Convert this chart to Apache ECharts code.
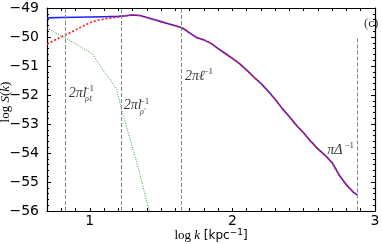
<!DOCTYPE html>
<html><head><meta charset="utf-8">
<script src="https://cdn.jsdelivr.net/npm/echarts@6/dist/echarts.min.js"></script>
<style>html,body{margin:0;padding:0;background:#fff}#c{width:382px;height:244px}</style>
</head><body><div id="c"></div>
<script>
// ---- data ----
const blueHeadK = [0.7, 0.8, 0.9, 1.0, 1.1, 1.2];
const blueHeadS = [-49.34, -49.33, -49.32, -49.31, -49.30, -49.29];
const redHeadK = [0.7, 0.75, 0.8, 0.85, 0.9, 0.95, 1.0, 1.05, 1.1, 1.15, 1.2];
const redHeadS = [-50.24, -50.12, -50.00, -49.88, -49.76, -49.63, -49.51, -49.43, -49.38, -49.34, -49.31];
const tailK = [1.25, 1.3, 1.35, 1.4, 1.45, 1.5, 1.55, 1.6, 1.65, 1.7, 1.75, 1.8, 1.85, 1.9, 1.95, 2.0, 2.05, 2.1, 2.15, 2.2, 2.25, 2.3, 2.35, 2.4, 2.45, 2.5, 2.55, 2.6, 2.65, 2.7, 2.75, 2.8, 2.85, 2.877];
const tailS = [-49.27, -49.24, -49.26, -49.33, -49.40, -49.47, -49.54, -49.61, -49.69, -49.86, -50.02, -50.10, -50.22, -50.40, -50.57, -50.74, -50.92, -51.14, -51.38, -51.60, -51.86, -52.15, -52.47, -52.75, -53.05, -53.31, -53.60, -53.86, -54.08, -54.34, -54.77, -55.10, -55.36, -55.45];
const greenK = [0.7, 0.75, 0.8, 0.85, 0.9, 0.95, 1.0, 1.02, 1.05, 1.1, 1.15, 1.19, 1.22, 1.25, 1.3, 1.33, 1.35, 1.4, 1.418];
const greenS = [-49.69, -49.83, -49.96, -50.09, -50.23, -50.38, -50.53, -50.59, -50.82, -51.20, -51.52, -51.83, -52.45, -52.95, -53.83, -54.34, -54.70, -55.70, -56.0];
const scaleLinesK = [0.83, 1.22, 1.644];
const deltaLineK = 2.874;
const deltaLineTop = -50.05;
const xTicks = [1, 2, 3];
const yTicks = [-56, -55, -54, -53, -52, -51, -50, -49];

// annotation texts
const annText = {
  l1: '2\u03c0l', l1sup: '\u22121', l1sub: '\u03c1\u2113',
  l2: '2\u03c0l', l2sup: '\u22121', l2sub: '\u03c1\u2032',
  l3: '2\u03c0\u2113', l3sup: '\u22121',
  l4: '\u03c0\u0394', l4sup: '\u22121',
  tag: '(c)'
};

// ---- build ----
const zip = (a, b) => a.map((v, i) => [v, b[i]]);
const tail = zip(tailK, tailS);
const blue = zip(blueHeadK, blueHeadS).concat(tail);
const red = zip(redHeadK, redHeadS).concat(tail);
const green = zip(greenK, greenS);

const serif = 'Liberation Serif';
const sans = 'DejaVu Sans';
function ann(x, y, text, size, italic) {
  return { value: [x, y], label: { show: true, position: 'right', distance: 0, formatter: text,
    fontFamily: serif, fontStyle: italic ? 'italic' : 'normal', fontSize: size, color: '#000' } };
}
const annData = [
  ann(0.852, -51.93, annText.l1, 14, true), ann(0.962, -51.79, annText.l1sup, 9, false), ann(0.966, -52.14, annText.l1sub, 8, true),
  ann(1.238, -52.34, annText.l2, 14, true), ann(1.35, -52.22, annText.l2sup, 9, false), ann(1.352, -52.59, annText.l2sub, 8, true),
  ann(1.668, -51.34, annText.l3, 14, true), ann(1.797, -51.19, annText.l3sup, 9, false),
  ann(2.665, -53.92, annText.l4, 14, true), ann(2.786, -53.73, annText.l4sup, 9, false),
  ann(2.922, -49.52, annText.tag, 13, false)
];

const axisLine = { show: true, lineStyle: { color: '#000', width: 1.2 } };
const isInt = v => Math.abs(v - Math.round(v)) < 1e-6;

const option = {
  animation: false,
  backgroundColor: '#fff',
  grid: { left: 47, right: 7, top: 8, bottom: 33, containLabel: false, outerBoundsMode: 'none' },
  xAxis: [
    { type: 'value', min: 0.7, max: 3, interval: 0.1, position: 'bottom',
      axisLine, splitLine: { show: false },
      axisTick: { inside: true, length: 3, lineStyle: { color: '#000' } },
      axisLabel: { interval: 0, margin: 3, fontFamily: sans, fontSize: 14, color: '#000',
        formatter: v => (isInt(v) && xTicks.includes(Math.round(v))) ? String(Math.round(v)) : '' },
      name: '{i|log }{k|k}{s| [kpc}{sup|\u22121}{s|]}', nameLocation: 'middle', nameGap: 17,
      nameMoveOverlap: false,
      nameTextStyle: { rich: {
        i: { fontFamily: serif, fontSize: 13, color: '#000' },
        k: { fontFamily: serif, fontStyle: 'italic', fontSize: 13, color: '#000' },
        s: { fontFamily: sans, fontSize: 12, color: '#000' },
        sup: { fontFamily: sans, fontSize: 9, color: '#000', verticalAlign: 'top', padding: [0, 0, 6, 0] } } } },
    { type: 'value', min: 0.7, max: 3, interval: 0.1, position: 'top',
      axisLine, splitLine: { show: false },
      axisTick: { inside: true, length: 3, lineStyle: { color: '#000' } },
      axisLabel: { show: false } }
  ],
  yAxis: [
    { type: 'value', min: -56, max: -49, interval: 1, position: 'left',
      axisLine, splitLine: { show: false },
      axisTick: { inside: true, length: 4, lineStyle: { color: '#000' } },
      minorTick: { show: true, splitNumber: 5, length: 2, lineStyle: { color: '#000' } },
      axisLabel: { margin: 8, fontFamily: sans, fontSize: 14, color: '#000',
        formatter: v => yTicks.includes(Math.round(v)) ? '\u2212' + Math.abs(Math.round(v)) : '' },
      name: '{p| }{i|log }{k|S}{i|(}{k|k}{i|)}', nameLocation: 'middle', nameRotate: 90, nameGap: 35,
      nameMoveOverlap: false,
      nameTextStyle: { rich: {
        p: { width: 15, fontSize: 13 },
        i: { fontFamily: serif, fontSize: 13, color: '#000' },
        k: { fontFamily: serif, fontStyle: 'italic', fontSize: 13, color: '#000' } } } },
    { type: 'value', min: -56, max: -49, interval: 1, position: 'right',
      axisLine, splitLine: { show: false },
      axisTick: { inside: true, length: 4, lineStyle: { color: '#000' } },
      minorTick: { show: true, splitNumber: 5, length: 2, lineStyle: { color: '#000' } },
      axisLabel: { show: false } }
  ],
  series: [
    { type: 'line', data: blue, showSymbol: false, symbol: 'none', z: 3,
      lineStyle: { color: '#1f1fff', width: 1.6 },
      markLine: { silent: true, symbol: 'none', label: { show: false },
        lineStyle: { color: '#888', type: [4, 2], width: 1 },
        data: scaleLinesK.map(k => ({ xAxis: k })).concat([[{ coord: [deltaLineK, deltaLineTop] }, { coord: [deltaLineK, -56] }]]) } },
    { type: 'line', data: red, showSymbol: false, symbol: 'none', z: 4,
      lineStyle: { color: '#ff1a1a', width: 1.6, type: [2, 2] } },
    { type: 'line', data: green, showSymbol: false, symbol: 'none', z: 2,
      lineStyle: { color: '#2aa02a', width: 1, type: [1, 1.5] } },
    { type: 'scatter', data: annData, symbolSize: 0, z: 5, silent: true, clip: false }
  ]
};
const chart = echarts.init(document.getElementById('c'), null, { renderer: 'canvas' });
chart.setOption(option);
</script></body></html>
